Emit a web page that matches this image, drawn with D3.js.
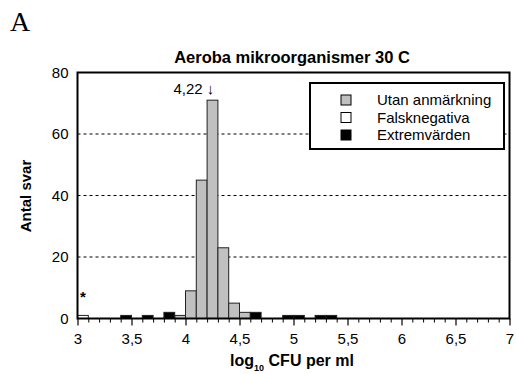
<!DOCTYPE html>
<html>
<head>
<meta charset="utf-8">
<script src="https://cdn.jsdelivr.net/npm/d3@7"></script>
<style>
  html, body { margin: 0; padding: 0; background: #fff; }
  svg { display: block; font-family: "Liberation Sans", Arial, sans-serif; }
</style>
</head>
<body>
<svg id="chart" width="516" height="374"></svg>
<script>
// Histogram bins (lower edge, width 0.1 log10 units)
const binWidth = 0.1;
const utanAnmarkning = [
  { x: 3.9, n: 1 }, { x: 4.0, n: 9 }, { x: 4.1, n: 45 }, { x: 4.2, n: 71 },
  { x: 4.3, n: 23 }, { x: 4.4, n: 5 }, { x: 4.5, n: 2 }
];
const falsknegativa = [ { x: 3.0, n: 1 } ];
const extremvarden = [
  { x: 3.4, n: 1 }, { x: 3.6, n: 1 }, { x: 3.8, n: 2 }, { x: 4.6, n: 2 },
  { x: 4.9, n: 1 }, { x: 5.0, n: 1 }, { x: 5.2, n: 1 }, { x: 5.3, n: 1 }
];
const xMajorTicks = [3, 3.5, 4, 4.5, 5, 5.5, 6, 6.5, 7];
const yTicks = [0, 20, 40, 60, 80];
const gridValues = [20, 40, 60];
const medianValue = 4.22;
const legendLabels = ["Utan anmärkning", "Falsknegativa", "Extremvärden"];
const legendColors = ["#c0c0c0", "#ffffff", "#000000"];

const svg = d3.select("#chart");
const plot = { left: 77.5, right: 509.5, top: 72.5, bottom: 318.5 };

const x = d3.scaleLinear().domain([3, 7]).range([plot.left, plot.right]);
const y = d3.scaleLinear().domain([0, 80]).range([plot.bottom, plot.top]);

const sv = d3.formatLocale({ decimal: ",", thousands: " ", grouping: [3], currency: ["", " kr"] });
const fmt = sv.format(".2~f");

// Panel letter
svg.append("text").attr("x", 10).attr("y", 31)
  .style("font-family", "'Liberation Serif', 'Times New Roman', serif")
  .style("font-size", "28px").text("A");

// Title
svg.append("text").attr("x", 292).attr("y", 63).attr("text-anchor", "middle")
  .style("font-size", "16.5px").style("font-weight", "bold")
  .text("Aeroba mikroorganismer 30 C");

// Dashed gridlines
svg.append("g").selectAll("line").data(gridValues).join("line")
  .attr("x1", plot.left).attr("x2", plot.right)
  .attr("y1", d => y(d)).attr("y2", d => y(d))
  .attr("stroke", "#000").attr("stroke-width", 1)
  .attr("stroke-dasharray", "3,3");

// Bars
function drawBars(data, fill) {
  svg.append("g").selectAll("rect").data(data).join("rect")
    .attr("x", d => x(d.x))
    .attr("width", d => x(d.x + binWidth) - x(d.x))
    .attr("y", d => y(d.n))
    .attr("height", d => y(0) - y(d.n))
    .attr("fill", fill)
    .attr("stroke", "#222").attr("stroke-width", 1);
}
drawBars(utanAnmarkning, legendColors[0]);
drawBars(falsknegativa, legendColors[1]);
drawBars(extremvarden, legendColors[2]);

// Asterisk over the false-negative bin
svg.append("text").attr("x", x(falsknegativa[0].x + binWidth / 2)).attr("y", 302)
  .attr("text-anchor", "middle").style("font-size", "15px").style("font-weight", "bold")
  .text("*");

// Median annotation
svg.append("text").attr("x", x(medianValue) + 5).attr("y", 94)
  .attr("text-anchor", "end").style("font-size", "15px")
  .text(fmt(medianValue) + " \u2193");

// Axes
const yAxis = d3.axisLeft(y).tickValues(yTicks).tickSize(0).tickPadding(9);
svg.append("g").attr("transform", `translate(${plot.left},0)`).call(yAxis)
  .call(g => g.select(".domain").remove())
  .call(g => g.selectAll("text").style("font-size", "15px").attr("fill", "#000")
    .style("font-family", "'Liberation Sans', Arial, sans-serif"));

const minorTicks = d3.range(30, 71).map(v => v / 10).filter(v => !xMajorTicks.includes(v));
svg.append("g").attr("transform", `translate(0,${plot.bottom})`)
  .call(d3.axisBottom(x).tickValues(minorTicks).tickSize(4).tickFormat(""))
  .call(g => g.select(".domain").remove())
  .call(g => g.selectAll("line").attr("stroke", "#000").attr("stroke-width", 1));

svg.append("g").attr("transform", `translate(0,${plot.bottom})`)
  .call(d3.axisBottom(x).tickValues(xMajorTicks).tickSize(7).tickPadding(8).tickFormat(fmt))
  .call(g => g.select(".domain").remove())
  .call(g => g.selectAll("line").attr("stroke", "#000").attr("stroke-width", 1.2))
  .call(g => g.selectAll("text").style("font-size", "15px").attr("fill", "#000")
    .style("font-family", "'Liberation Sans', Arial, sans-serif"));

// Plot frame
svg.append("rect")
  .attr("x", plot.left).attr("y", plot.top)
  .attr("width", plot.right - plot.left).attr("height", plot.bottom - plot.top)
  .attr("fill", "none").attr("stroke", "#000").attr("stroke-width", 2);

// Axis titles
const xt = svg.append("text").attr("x", 292).attr("y", 366).attr("text-anchor", "middle")
  .style("font-size", "16px").style("font-weight", "bold");
xt.append("tspan").text("log");
xt.append("tspan").attr("dy", 5).style("font-size", "9px").text("10");
xt.append("tspan").attr("dy", -5).text(" CFU per ml");

svg.append("text").attr("transform", "translate(31,196) rotate(-90)")
  .attr("text-anchor", "middle").style("font-size", "15px").style("font-weight", "bold")
  .text("Antal svar");

// Legend
const legend = svg.append("g");
legend.append("rect").attr("x", 310).attr("y", 83).attr("width", 194).attr("height", 66)
  .attr("fill", "#fff").attr("stroke", "#000").attr("stroke-width", 2);
const items = legend.selectAll("g.item").data(legendLabels).join("g").attr("class", "item")
  .attr("transform", (d, i) => `translate(0,${105 + i * 17.5})`);
items.append("rect").attr("x", 341).attr("y", -10).attr("width", 10).attr("height", 10)
  .attr("fill", (d, i) => legendColors[i]).attr("stroke", "#000").attr("stroke-width", 1);
items.append("text").attr("x", 377).attr("y", 0).style("font-size", "15px").text(d => d);
</script>
</body>
</html>
